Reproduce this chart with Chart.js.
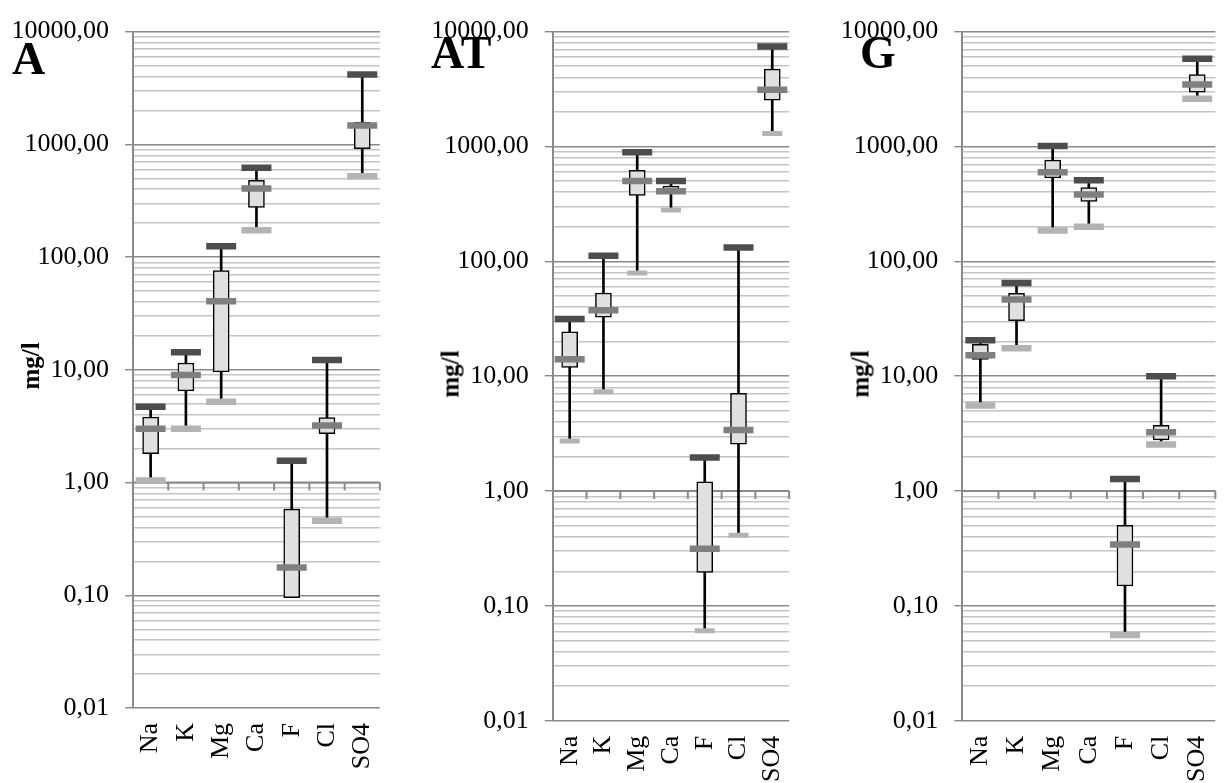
<!DOCTYPE html>
<html>
<head>
<meta charset="utf-8">
<script src="https://cdn.jsdelivr.net/npm/chart.js@4.4.1/dist/chart.umd.min.js"></script>
<style>
  html, body { margin: 0; padding: 0; background: #fff; }
  body { width: 1231px; height: 783px; overflow: hidden; position: relative; font-family: "Liberation Serif", "Times New Roman", serif; }
  canvas { position: absolute; top: 0; }
  .panel { position: absolute; font-weight: bold; font-size: 46px; line-height: 1; color: #000; }
  .ytitle { position: absolute; font-weight: bold; font-size: 25px; line-height: 1; white-space: nowrap;
            transform: translate(-50%, -50%) rotate(-90deg); }
</style>
</head>
<body>
<canvas id="chartA" width="410" height="783" style="left:0px"></canvas>
<canvas id="chartAT" width="410" height="783" style="left:410px"></canvas>
<canvas id="chartG" width="425" height="783" style="left:820px"></canvas>

<div class="panel" style="left:12px; top:35.5px">A</div>
<div class="panel" style="left:431px; top:29.5px">AT</div>
<div class="panel" style="left:860px; top:29.5px">G</div>
<div class="ytitle" style="left:30px; top:366px">mg/l</div>
<div class="ytitle" style="left:450px; top:374px">mg/l</div>
<div class="ytitle" style="left:860px; top:374px">mg/l</div>

<script>
// categories and axis ticks
const categories = ["Na", "K", "Mg", "Ca", "F", "Cl", "SO4"];
const yTicks = [0.01, 0.1, 1, 10, 100, 1000, 10000];
const yTickLabels = ["0,01", "0,10", "1,00", "10,00", "100,00", "1000,00", "10000,00"];

// panel A
const aMax    = [4.7, 14.3, 125, 620, 1.56, 12.2, 4170];
const aQ3     = [3.8, 11.5, 76, 480, 0.58, 3.77, 1570];
const aMedian = [3.0, 9.0, 40.5, 405, 0.176, 3.2, 1470];
const aQ1     = [1.8, 6.5, 9.6, 276, 0.095, 2.71, 916];
const aMin    = [1.04, 3.0, 5.2, 173, null, 0.458, 521];

// panel AT
const atMax    = [31.5, 112, 890, 500, 1.96, 132, 7400];
const atQ3     = [24.3, 53, 619, 451, 1.2, 7.1, 4720];
const atMedian = [14.0, 37.4, 501, 408, 0.314, 3.4, 3110];
const atQ1     = [11.9, 32.6, 375, 390, 0.195, 2.56, 2535];
const atMin    = [2.72, 7.3, 79, 280, 0.0608, 0.412, 1298];

// panel G
const gMax    = [20.5, 64.7, 1010, 507, 1.27, 10.0, 5800];
const gQ3     = [18.9, 52.7, 760, 438, 0.503, 3.74, 4230];
const gMedian = [15.2, 46.5, 596, 382, 0.342, 3.25, 3460];
const gQ1     = [14.0, 30.4, 532, 333, 0.149, 2.79, 2970];
const gMin    = [5.56, 17.5, 185, 200, 0.0558, 2.54, 2600];

const MAJOR = "#8a8a8a";
const MINOR = "#c4c4c4";
const SERIF = "'Liberation Serif', 'Times New Roman', serif";

// horizontal category axis crossing at 1,00 with tick marks between categories
const crossAxis = {
  id: "crossAxis",
  beforeDatasetsDraw(chart) {
    const { ctx, chartArea } = chart;
    const x = chart.scales.x;
    const y = chart.scales.y;
    const py = y.getPixelForValue(1);
    const step = x.getPixelForValue(1) - x.getPixelForValue(0);
    ctx.save();
    ctx.strokeStyle = MAJOR;
    ctx.lineWidth = 2;
    ctx.beginPath();
    ctx.moveTo(chartArea.left, py);
    ctx.lineTo(chartArea.right, py);
    for (let i = 0; i < categories.length; i++) {
      const px = x.getPixelForValue(i) + step / 2;
      ctx.moveTo(px, py);
      ctx.lineTo(px, py + 8);
    }
    ctx.stroke();
    ctx.restore();
  },
};

function marker(data, color, radius, width) {
  return {
    type: "line",
    data: data,
    showLine: false,
    pointStyle: "line",
    pointRadius: radius,
    pointHoverRadius: radius,
    pointBorderWidth: width,
    pointBorderColor: color,
    borderColor: color,
    order: 1,
  };
}

function makeChart(id, max, q3, med, q1, min, layout) {
  const whisker = categories.map((c, i) => [min[i] == null ? q1[i] : min[i], max[i]]);
  const box = categories.map((c, i) => [q1[i], q3[i]]);

  const ticks = [];
  yTicks.forEach((v, i) => {
    ticks.push({ value: v, major: true, label: yTickLabels[i] });
    if (i < yTicks.length - 1) {
      for (let k = 2; k <= 9; k++) ticks.push({ value: v * k, major: false, label: "" });
    }
  });
  ticks.sort((a, b) => a.value - b.value);

  return new Chart(document.getElementById(id), {
    type: "bar",
    data: {
      labels: categories,
      datasets: [
        {
          data: whisker,
          backgroundColor: "#000",
          barThickness: 2,
          grouped: false,
          order: 3,
        },
        {
          data: box,
          backgroundColor: "#e0e0e0",
          borderColor: "#000",
          borderWidth: 1.5,
          borderSkipped: false,
          barThickness: 16,
          grouped: false,
          order: 2,
        },
        marker(max, "#4d4d4d", 15, 6.5),
        marker(med, "#7f7f7f", 15, 6.5),
        marker(min, "#b3b3b3", layout.minRadius, layout.minWidth),
      ],
    },
    options: {
      responsive: false,
      animation: false,
      layout: { padding: { top: layout.top, right: layout.right, bottom: 0, left: 0 } },
      plugins: { legend: { display: false }, tooltip: { enabled: false } },
      scales: {
        x: {
          type: "category",
          grid: { display: false, drawTicks: false },
          border: { display: false },
          ticks: {
            color: "#000",
            font: { family: SERIF, size: 26 },
            minRotation: 90,
            maxRotation: 90,
            padding: 15,
            autoSkip: false,
          },
          afterFit(scale) { scale.height = layout.xHeight; },
        },
        y: {
          type: "logarithmic",
          min: 0.01,
          max: 10000,
          afterBuildTicks(scale) { scale.ticks = ticks.map((t) => ({ value: t.value, major: t.major })); },
          afterFit(scale) { scale.width = layout.yWidth; },
          ticks: {
            color: "#000",
            font: { family: SERIF, size: 26 },
            padding: 16,
            autoSkip: false,
            callback: (value, index) => ticks[index].label,
          },
          grid: {
            color: (c) => (c.tick && c.tick.major ? MAJOR : MINOR),
            lineWidth: 1.4,
            tickLength: 8,
            tickColor: (c) => (c.tick && c.tick.major ? MAJOR : "rgba(0,0,0,0)"),
          },
          border: { color: MAJOR, width: 2 },
        },
      },
    },
    plugins: [crossAxis],
  });
}

makeChart("chartA", aMax, aQ3, aMedian, aQ1, aMin,
  { top: 23, right: 14.3, xHeight: 75, yWidth: 133, minRadius: 15, minWidth: 6.5 });
makeChart("chartAT", atMax, atQ3, atMedian, atQ1, atMin,
  { top: 25, right: 6.7, xHeight: 62.3, yWidth: 142.8, minRadius: 10, minWidth: 5 });
makeChart("chartG", gMax, gQ3, gMedian, gQ1, gMin,
  { top: 25, right: 11.8, xHeight: 62.3, yWidth: 142.3, minRadius: 15, minWidth: 6.5 });
</script>
</body>
</html>
